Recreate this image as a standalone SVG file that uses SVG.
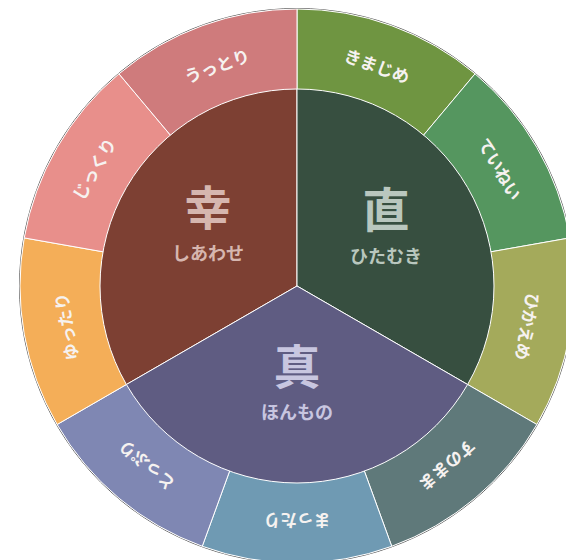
<svg xmlns="http://www.w3.org/2000/svg" width="566" height="560" viewBox="0 0 566 560">
<style>
.seg{stroke:#ffffff;stroke-width:1}
.ring{font-family:"Noto Sans CJK JP","Noto Sans",sans-serif;font-size:17px;font-weight:700;fill:#f6f2f0;text-anchor:middle;dominant-baseline:central}
.kanji{font-family:"Noto Sans CJK JP","Noto Sans",sans-serif;font-size:47px;font-weight:700;text-anchor:middle;dominant-baseline:central}
.sub{font-family:"Noto Sans CJK JP","Noto Sans",sans-serif;font-size:18px;font-weight:700;text-anchor:middle;dominant-baseline:central}
</style>
<rect width="566" height="560" fill="#ffffff"/>
<g id="outer">
<circle cx="297" cy="286" r="277.5" fill="none" stroke="#333" stroke-width="0.8"/>
</g>
<g id="kimajime"><path class="seg" fill="#6f9541" d="M297 286 L297 9 A277 277 0 0 1 475.05 73.81 Z"/><text class="ring" x="297" y="51" transform="rotate(20 297 286)">きまじめ</text></g>
<g id="teinei"><path class="seg" fill="#55965f" d="M297 286 L475.05 73.81 A277 277 0 0 1 569.79 237.9 Z"/><text class="ring" x="297" y="51" transform="rotate(60 297 286)">ていねい</text></g>
<g id="hikaeme"><path class="seg" fill="#a4aa5b" d="M297 286 L569.79 237.9 A277 277 0 0 1 536.89 424.5 Z"/><text class="ring" x="297" y="51" transform="rotate(100 297 286)">ひかえめ</text></g>
<g id="sunomama"><path class="seg" fill="#5f797a" d="M297 286 L536.89 424.5 A277 277 0 0 1 391.74 546.29 Z"/><text class="ring" x="297" y="51" transform="rotate(140 297 286)">すのまま</text></g>
<g id="mattari"><path class="seg" fill="#6f9ab3" d="M297 286 L391.74 546.29 A277 277 0 0 1 202.26 546.29 Z"/><text class="ring" x="297" y="51" transform="rotate(180 297 286)">まったり</text></g>
<g id="toppuri"><path class="seg" fill="#7f87b3" d="M297 286 L202.26 546.29 A277 277 0 0 1 57.11 424.5 Z"/><text class="ring" x="297" y="51" transform="rotate(220 297 286)">とっぷり</text></g>
<g id="yuttari"><path class="seg" fill="#f4ae58" d="M297 286 L57.11 424.5 A277 277 0 0 1 24.21 237.9 Z"/><text class="ring" x="297" y="51" transform="rotate(260 297 286)">ゆったり</text></g>
<g id="jikkuri"><path class="seg" fill="#e88f8b" d="M297 286 L24.21 237.9 A277 277 0 0 1 118.95 73.81 Z"/><text class="ring" x="297" y="51" transform="rotate(300 297 286)">じっくり</text></g>
<g id="uttori"><path class="seg" fill="#cf7b7c" d="M297 286 L118.95 73.81 A277 277 0 0 1 297 9 Z"/><text class="ring" x="297" y="51" transform="rotate(340 297 286)">うっとり</text></g>
<g id="shiawase"><path class="seg" fill="#7d4033" d="M297 286 L126.4 384.5 A197 197 0 0 1 297 89 Z"/><text class="kanji" x="208" y="204" fill="#d6b6af">幸</text><text class="sub" x="208" y="252" fill="#d6b6af">しあわせ</text></g>
<g id="hitamuki"><path class="seg" fill="#374f40" d="M297 286 L297 89 A197 197 0 0 1 467.6 384.5 Z"/><text class="kanji" x="386" y="206" fill="#b9c7be">直</text><text class="sub" x="386" y="255" fill="#b9c7be">ひたむき</text></g>
<g id="honmono"><path class="seg" fill="#5f5c82" d="M297 286 L467.6 384.5 A197 197 0 0 1 126.4 384.5 Z"/><text class="kanji" x="297" y="363" fill="#c8c6e0">真</text><text class="sub" x="297" y="411" fill="#c8c6e0">ほんもの</text></g>
</svg>
